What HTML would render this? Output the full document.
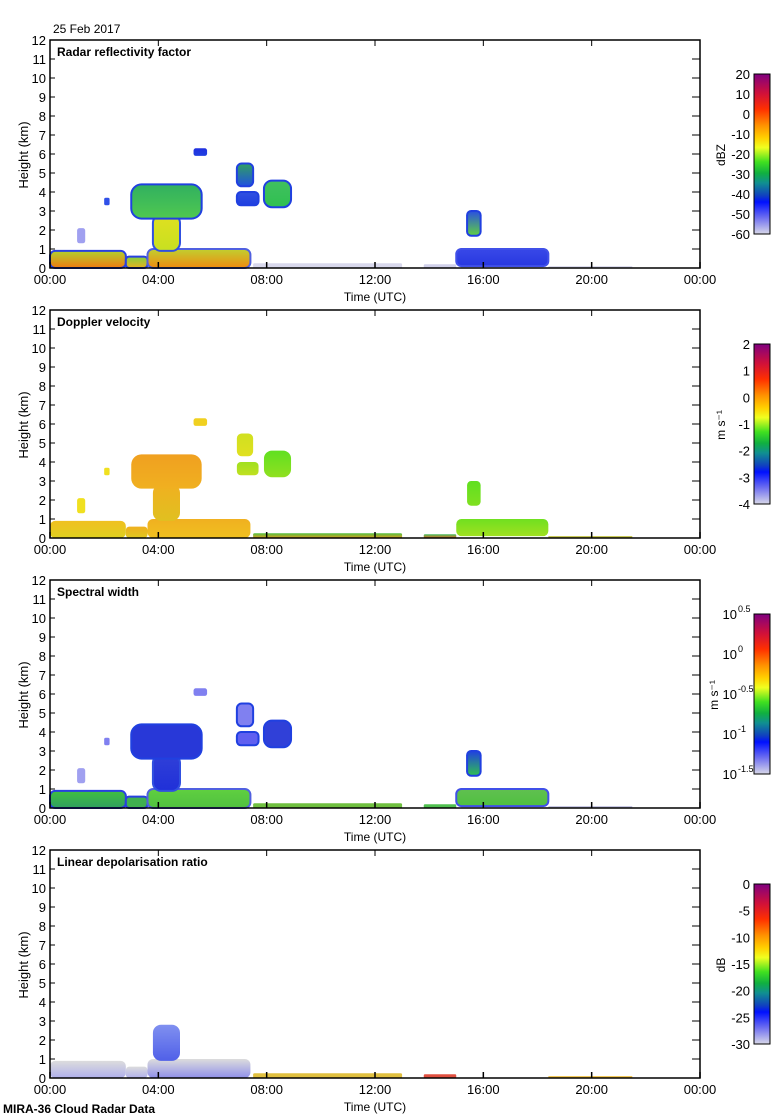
<!DOCTYPE html>
<html><head><meta charset="utf-8"><style>
html,body{margin:0;padding:0;background:#fff;}
svg{display:block;font-family:"Liberation Sans",sans-serif;}
</style></head><body>
<svg id="fig" width="780" height="1120" viewBox="0 0 780 1120" xmlns="http://www.w3.org/2000/svg">
<text x="53" y="33" font-size="12">25 Feb 2017</text>
<text x="3" y="1113" font-size="12" font-weight="bold">MIRA-36 Cloud Radar Data</text>
</svg>
<script>
// cloud feature geometry (hours UTC, km)
const featT0 = [0, 2.8, 3.6, 3.8, 3.0, 5.3, 6.9, 6.9, 7.9, 1.0, 2.0, 7.5, 13.8, 15.0, 15.4, 18.4];
const featT1 = [2.8, 3.6, 7.4, 4.8, 5.6, 5.8, 7.5, 7.7, 8.9, 1.3, 2.2, 13.0, 15.0, 18.4, 15.9, 21.5];
const featH0 = [0, 0, 0, 0.9, 2.6, 5.9, 4.3, 3.3, 3.2, 1.3, 3.3, 0, 0, 0.1, 1.7, 0];
const featH1 = [0.9, 0.6, 1.0, 2.8, 4.4, 6.3, 5.5, 4.0, 4.6, 2.1, 3.7, 0.25, 0.2, 1.0, 3.0, 0.1];
// per-panel colours (bottom, top, edge); null = absent
const refBot = ["#f07a10","#e8b020","#f08a10","#c8e020","#50c850","#2040e0","#2050e0","#2040e0","#30c050","#a0a0f0","#3050e8","#d8d8ec","#d0d0ea","#2838e0","#60d040","#d8d8ec"];
const refTop = ["#b0d030","#80d040","#c0d030","#e0e020","#30b060","#2030e0","#30a060","#3050e0","#40c060","#a0a0f0","#3050e8","#d8d8ec","#d0d0ea","#3848e8","#2a50e0","#d8d8ec"];
const refEdge = ["#2840e0","#2840e0","#5060e0","#3050e0","#2040e0","none","#2040e0","#2040e0","#2040e0","none","none","none","none","#4050e8","#2040e0","none"];
const velBot = ["#e0d020","#e0c820","#f0c020","#e0c020","#f0b020","#f0d020","#e0e020","#c0e020","#90e020","#f0e020","#f0e020","#e0a020","#e07020","#a0e020","#80e020","#c0c040"];
const velTop = ["#f0c020","#f0b020","#f0b020","#f0b020","#f0a020","#f0d020","#d0e020","#a0e020","#60e020","#f0e020","#f0e020","#50c040","#40c060","#70e020","#60e020","#c0c040"];
const widBot = ["#30a060","#40b050","#50c040","#2030d8","#2838d8","#8080f0","#8080f0","#6060f0","#3040d8","#a0a0f0","#8080f0","#70c040","#50c050","#50c040","#30c050","#c0c0e0"];
const widTop = ["#40c040","#40b050","#60d040","#3040d8","#2838d8","#8080f0","#8080f0","#6060f0","#3040d8","#a0a0f0","#8080f0","#70c040","#50c050","#60c050","#2040e0","#c0c0e0"];
const ldrBot = ["#b0b0ec","#b0b0ec","#9090ea","#5060e8","null","null","null","null","null","null","null","#e0c040","#e05040","null","null","#f0c040"];
const ldrTop = ["#dcdcdc","#dcdcdc","#dcdcdc","#8090f0","null","null","null","null","null","null","null","#e0c040","#e05040","null","null","#f0c040"];
// axis ticks
const hourTicks = [0, 4, 8, 12, 16, 20, 24];
const hourLabels = ["00:00","04:00","08:00","12:00","16:00","20:00","00:00"];
const kmTicks = [0,1,2,3,4,5,6,7,8,9,10,11,12];
const panelTitles = ["Radar reflectivity factor","Doppler velocity","Spectral width","Linear depolarisation ratio"];
const panelUnits = ["dBZ","m s\u207B\u00B9","m s\u207B\u00B9","dB"];
const cbLabels1 = ["20","10","0","-10","-20","-30","-40","-50","-60"];
const cbLabels2 = ["2","1","0","-1","-2","-3","-4"];
const cbLabels3 = ["0.5","0","-0.5","-1","-1.5"];
const cbLabels4 = ["0","-5","-10","-15","-20","-25","-30"];

const svg = document.getElementById('fig');
const NS = 'http://www.w3.org/2000/svg';
const X0 = 50, X1 = 700, PH = 228;
const panelTop = [40, 310, 580, 850];
function xs(h){ return X0 + (X1 - X0) * h / 24; }
function ys(p, km){ return panelTop[p] + PH - PH * km / 12; }
function mk(tag, attrs, parent){
  const e = document.createElementNS(NS, tag);
  for (const k in attrs) e.setAttribute(k, attrs[k]);
  (parent || svg).appendChild(e); return e;
}
const defs = mk('defs', {});
const cg = mk('linearGradient', {id:'cbar', x1:0, y1:0, x2:0, y2:1}, defs);
[["0","#800080"],["0.12","#d0103a"],["0.22","#ff3000"],["0.32","#ff9000"],["0.4","#ffd000"],["0.46","#f0ff20"],["0.55","#40e020"],["0.62","#10b040"],["0.68","#109090"],["0.76","#1040c0"],["0.8","#0010ff"],["0.9","#7070f0"],["1","#d8d8e8"]].forEach(s=>mk('stop',{offset:s[0],'stop-color':s[1]},cg));

const bots = [refBot, velBot, widBot, ldrBot];
const tops = [refTop, velTop, widTop, ldrTop];

for (let p = 0; p < 4; p++) {
  const g = mk('g', {});
  
  
  const top = panelTop[p], bot = top + PH;
  for (let i = 0; i < featT0.length; i++) {
    const b = bots[p][i], t = tops[p][i];
    if (!b || b === "null") continue;
    const gid = 'g' + p + '_' + i;
    const lg = mk('linearGradient', {id:gid, x1:0, y1:1, x2:0, y2:0}, defs);
    mk('stop', {offset:'0', 'stop-color':b}, lg);
    mk('stop', {offset:'1', 'stop-color':t}, lg);
    const x = xs(featT0[i]), w = xs(featT1[i]) - x;
    const y = ys(p, featH1[i]), h = ys(p, featH0[i]) - y;
    const edge = (p === 0 || p === 2) ? refEdge[i] : 'none';
    const r = mk('rect', {x:x, y:y, width:w, height:h, rx:Math.min(w,h)*0.3, fill:'url(#'+gid+')', stroke:edge, 'stroke-width':2}, g);
    
    
  }
  const fr = mk('rect', {x:X0, y:top, width:X1-X0, height:PH, fill:'none', stroke:'#000', 'stroke-width':1.5}, g);
  
  
  kmTicks.forEach(k => {
    const y = ys(p, k);
    mk('line', {x1:X0, y1:y, x2:X0+5, y2:y, stroke:'#000'}, g);
    mk('line', {x1:X1-8, y1:y, x2:X1, y2:y, stroke:'#000'}, g);
    const tl = mk('text', {x:X0-4, y:y+5, 'font-size':13, 'text-anchor':'end'}, g);
    tl.textContent = k;
    
    
  });
  hourTicks.forEach((h, j) => {
    const x = xs(h);
    mk('line', {x1:x, y1:bot, x2:x, y2:bot-6, stroke:'#000', 'stroke-width':1.5}, g);
    mk('line', {x1:x, y1:top, x2:x, y2:top+6, stroke:'#000'}, g);
    const tl = mk('text', {x:x, y:bot+16, 'font-size':13, 'text-anchor':'middle'}, g);
    tl.textContent = hourLabels[j];
    
    
  });
  const xt = mk('text', {x:375, y:bot+33, 'font-size':12, 'text-anchor':'middle'}, g);
  xt.textContent = 'Time (UTC)';
  
  
  const yt = mk('text', {x:0, y:0, 'font-size':13, 'text-anchor':'middle', transform:'translate(28,'+(top+115)+') rotate(-90)'}, g);
  yt.textContent = 'Height (km)';
  
  
  const tt = mk('text', {x:57, y:top+16, 'font-size':12, 'font-weight':'bold'}, g);
  tt.textContent = panelTitles[p];
  
  
  const cy0 = top + 34, cy1 = top + 194;
  const cb = mk('rect', {x:754, y:cy0, width:16, height:cy1-cy0, fill:'url(#cbar)', stroke:'#000', 'stroke-width':1}, g);
  
  
  const labs = [cbLabels1, cbLabels2, cbLabels3, cbLabels4][p];
  labs.forEach((l, j) => {
    const y = cy0 + (cy1 - cy0) * j / (labs.length - 1);
    if (p === 2) {
      const t = mk('text', {x:737, y:y+5, 'font-size':13, 'text-anchor':'end'}, g);
      t.textContent = '10';
      
      
      const s = mk('text', {x:738, y:y-2, 'font-size':9}, g);
      s.textContent = l;
    } else {
      const t = mk('text', {x:750, y:y+5, 'font-size':13, 'text-anchor':'end'}, g);
      t.textContent = l;
      
      
    }
  });
  const ut = mk('text', {x:0, y:0, 'font-size':12, 'text-anchor':'middle', transform:'translate(' + (p===2?718:725) + ',' + (top+115) + ') rotate(-90)'}, g);
  ut.textContent = panelUnits[p];
  
  
}
</script>
</body></html>
